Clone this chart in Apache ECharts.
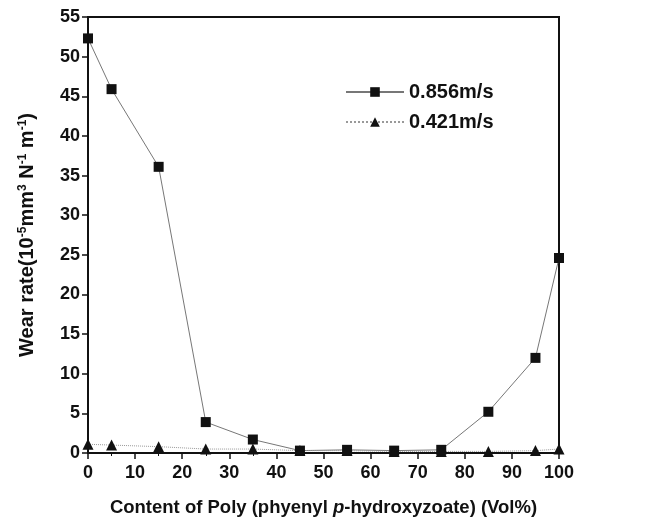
<!DOCTYPE html>
<html>
<head>
<meta charset="utf-8">
<script src="https://cdn.jsdelivr.net/npm/echarts@6/dist/echarts.min.js"></script>
<style>
  html, body { margin: 0; padding: 0; background: #fff; }
  #chart { width: 655px; height: 523px; }
</style>
</head>
<body>
<div id="chart"></div>
<script>
// content of poly (vol%)
const contentX = [0, 5, 15, 25, 35, 45, 55, 65, 75, 85, 95, 100];
// wear rate at 0.856 m/s
const wear856 = [52.3, 45.9, 36.1, 3.9, 1.7, 0.3, 0.4, 0.3, 0.4, 5.2, 12.0, 24.6];
// wear rate at 0.421 m/s
const wear421 = [1.1, 1.0, 0.8, 0.5, 0.5, 0.3, 0.3, 0.2, 0.2, 0.2, 0.3, 0.5];

const chart = echarts.init(document.getElementById("chart"));
const font = "Arial, 'Liberation Sans', sans-serif";

const pairs = (ys) => contentX.map((x, i) => [x, ys[i]]);

const option = {
    animation: false,
    backgroundColor: "#fff",
    grid: {
        left: 88, right: 96, top: 17, bottom: 70,
        outerBoundsMode: "none",
        show: true, borderColor: "#111", borderWidth: 2,
    },
    legend: {
        orient: "vertical",
        left: 340,
        top: 77,
        itemWidth: 58,
        itemHeight: 12,
        itemGap: 10,
        textStyle: { color: "#111", fontSize: 20, fontWeight: "bold", fontFamily: font },
        data: ["0.856m/s", "0.421m/s"],
    },
    xAxis: {
        type: "value",
        min: 0,
        max: 100,
        interval: 10,
        name: "Content of Poly (phyenyl {i|p}-hydroxyzoate) (Vol%)",
        nameLocation: "middle",
        nameGap: 45,
        nameTextStyle: {
            color: "#111", fontSize: 18.5, fontWeight: "bold", fontFamily: font,
            rich: { i: { fontStyle: "italic", fontSize: 18.5, fontWeight: "bold", fontFamily: font, color: "#111" } },
        },
        axisLine: { show: true, lineStyle: { color: "#111", width: 2 } },
        axisTick: { show: true, length: 6, lineStyle: { color: "#111", width: 1.5 } },
        minorTick: { show: true, splitNumber: 2, length: 3, lineStyle: { color: "#111" } },
        axisLabel: { color: "#111", fontSize: 18, fontWeight: "bold", fontFamily: font, margin: 11 },
        splitLine: { show: false },
    },
    yAxis: {
        type: "value",
        min: 0,
        max: 55,
        interval: 5,
        name: "Wear rate(10{s|-5}mm{s|3} N{s|-1} m{s|-1})",
        nameLocation: "middle",
        nameGap: 50,
        nameTextStyle: {
            color: "#111", fontSize: 20, fontWeight: "bold", fontFamily: font,
            rich: { s: { fontSize: 12, fontWeight: "bold", fontFamily: font, color: "#111", verticalAlign: "top", padding: [0, 0, 9, 0] } },
        },
        axisLine: { show: true, lineStyle: { color: "#111", width: 2 } },
        axisTick: { show: true, length: 6, lineStyle: { color: "#111", width: 1.5 } },
        axisLabel: { color: "#111", fontSize: 18, fontWeight: "bold", fontFamily: font, margin: 8 },
        splitLine: { show: false },
    },
    series: [
        {
            name: "0.856m/s",
            type: "line",
            data: pairs(wear856),
            symbol: "rect",
            symbolSize: 10,
            itemStyle: { color: "#111" },
            lineStyle: { color: "#777", width: 1 },
        },
        {
            name: "0.421m/s",
            type: "line",
            data: pairs(wear421),
            symbol: "triangle",
            symbolSize: 11,
            itemStyle: { color: "#111" },
            lineStyle: { color: "#999", width: 1, type: "dotted" },
        },
    ],
};

chart.setOption(option);
</script>
</body>
</html>
